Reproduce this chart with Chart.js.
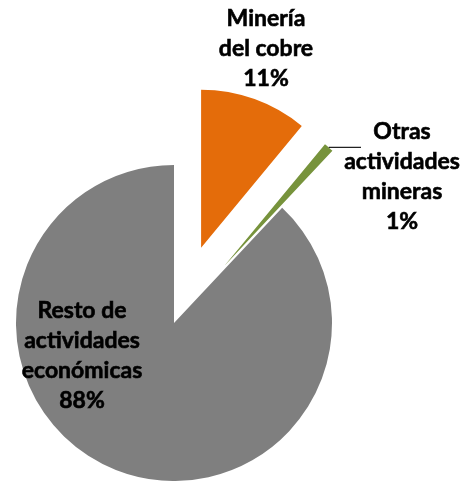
<!DOCTYPE html>
<html>
<head>
<meta charset="utf-8">
<script src="https://cdn.jsdelivr.net/npm/chart.js"></script>
<style>
  html, body { margin: 0; padding: 0; background: #fff; overflow: hidden; }
  #wrap { width: 463px; height: 481px; position: relative; }
</style>
</head>
<body>
<div id="wrap"><canvas id="pieChart" width="463" height="481"></canvas></div>
<script>
// datos del gráfico
const categories = ['Minería del cobre', 'Otras actividades mineras', 'Resto de actividades económicas'];
const shares = [11, 1, 88];
const labelLines = [
    ['Minería', 'del cobre', '11%'],
    ['Otras', 'actividades', 'mineras', '1%'],
    ['Resto de', 'actividades', 'económicas', '88%']
];
const sliceColors = ['#E46C0A', '#77933C', '#7F7F7F'];

// separación de cada porción (px) y posición de las etiquetas respecto al centro
const explode = [80, 76, 0];
const labelOffsets = [[92, -274], [228, -146], [-92, 33]];

// mueve el centro de las porciones separadas sin deformarlas
// (el "offset" de Chart.js agranda el radio y recorta el ángulo)
const explodePlugin = {
    id: 'explodeSlices',
    afterDatasetUpdate(chart, args) {
        if (args.index !== 0) return;
        chart.getDatasetMeta(0).data.forEach((arc, i) => {
            const mid = (arc.startAngle + arc.endAngle) / 2;
            arc.x += Math.cos(mid) * explode[i];
            arc.y += Math.sin(mid) * explode[i];
        });
    }
};

const labelPlugin = {
    id: 'sliceLabels',
    afterDatasetsDraw(chart) {
        const ctx = chart.ctx;
        const arcs = chart.getDatasetMeta(0).data;
        const cx = arcs[2].x, cy = arcs[2].y;
        ctx.save();
        ctx.fillStyle = '#000';
        ctx.strokeStyle = '#000';
        ctx.lineWidth = 0.6;
        ctx.font = 'bold 23px Lato';
        ctx.textAlign = 'center';
        ctx.textBaseline = 'middle';
        const lineH = 30;
        labelLines.forEach((lines, i) => {
            const [dx, dy] = labelOffsets[i];
            const top = cy + dy - (lines.length - 1) * lineH / 2;
            lines.forEach((t, j) => {
                ctx.fillText(t, cx + dx, top + j * lineH);
                ctx.strokeText(t, cx + dx, top + j * lineH);
            });
        });
        // línea guía de la porción pequeña
        const g = arcs[1];
        const mid = (g.startAngle + g.endAngle) / 2;
        const px = g.x + Math.cos(mid) * g.outerRadius;
        const py = g.y + Math.sin(mid) * g.outerRadius;
        ctx.strokeStyle = '#222';
        ctx.lineWidth = 1.2;
        ctx.beginPath();
        ctx.moveTo(px, py);
        ctx.lineTo(361, py);
        ctx.stroke();
        ctx.restore();
    }
};

new Chart(document.getElementById('pieChart'), {
    type: 'pie',
    data: {
        labels: categories,
        datasets: [{
            data: shares,
            backgroundColor: sliceColors,
            borderWidth: 0,
            hoverOffset: 0,
            radius: 158
        }]
    },
    options: {
        responsive: false,
        animation: false,
        events: [],
        layout: { padding: { left: 0, right: 115, top: 165, bottom: 0 } },
        plugins: { legend: { display: false }, tooltip: { enabled: false } }
    },
    plugins: [explodePlugin, labelPlugin]
});
</script>
</body>
</html>
